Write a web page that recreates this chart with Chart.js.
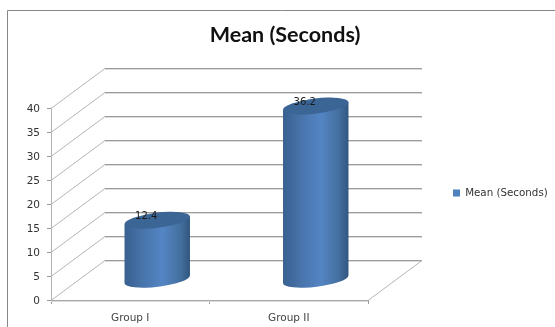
<!DOCTYPE html>
<html>
<head>
<meta charset="utf-8">
<title>Mean (Seconds)</title>
<script src="https://cdn.jsdelivr.net/npm/chart.js"></script>
<style>
    html, body { margin: 0; background: #ffffff; }
    canvas { display: block; }
</style>
</head>
<body>
<canvas id="meanChart" width="555" height="327"></canvas>
<script>
// Chart values
const categories = ['Group I', 'Group II'];
const meanSeconds = [12.4, 36.2];
const seriesName = 'Mean (Seconds)';

// Depth of the fake 3D box, in pixels
const depthX = 54;
const depthY = -40.5;

// Outer frame, only the left and top edges are visible
const framePlugin = {
    id: 'frame',
    beforeDraw(chart) {
        const ctx = chart.ctx;
        ctx.save();
        ctx.strokeStyle = '#888888';
        ctx.lineWidth = 1;
        ctx.beginPath();
        ctx.moveTo(7.5, chart.height);
        ctx.lineTo(7.5, 10.5);
        ctx.lineTo(chart.width, 10.5);
        ctx.stroke();
        ctx.restore();
    }
};

// Back wall and floor, built from the y scale ticks
const wallPlugin = {
    id: 'walls',
    beforeDatasetsDraw(chart) {
        const ctx = chart.ctx;
        const area = chart.chartArea;
        const yScale = chart.scales.y;
        ctx.save();
        ctx.lineWidth = 1;
        yScale.ticks.forEach(tick => {
            const y = Math.round(yScale.getPixelForValue(tick.value));
            const backY = Math.round(y + depthY) + 0.5;
            // diagonal on the left side wall
            ctx.strokeStyle = '#b4b4b4';
            ctx.beginPath();
            ctx.moveTo(area.left, y + 0.5);
            ctx.lineTo(area.left + depthX, backY);
            ctx.stroke();
            // horizontal line on the back wall, with a soft shadow under it
            ctx.strokeStyle = '#dcdcdc';
            ctx.beginPath();
            ctx.moveTo(area.left + depthX, backY + 1);
            ctx.lineTo(area.right + depthX, backY + 1);
            ctx.stroke();
            ctx.strokeStyle = '#9c9c9c';
            ctx.beginPath();
            ctx.moveTo(area.left + depthX, backY);
            ctx.lineTo(area.right + depthX, backY);
            ctx.stroke();
        });
        // floor edge on the right
        const zeroY = Math.round(yScale.getPixelForValue(0));
        ctx.strokeStyle = '#b4b4b4';
        ctx.beginPath();
        ctx.moveTo(area.right, zeroY + 0.5);
        ctx.lineTo(area.right + depthX, Math.round(zeroY + depthY) + 0.5);
        ctx.stroke();
        // soft shadow under the front floor edge
        ctx.strokeStyle = '#dcdcdc';
        ctx.beginPath();
        ctx.moveTo(area.left, zeroY + 1.5);
        ctx.lineTo(area.right, zeroY + 1.5);
        ctx.stroke();
        ctx.restore();
    }
};

// Replaces the flat bars with tilted cylinders standing halfway into the box
const cylinderPlugin = {
    id: 'cylinders',
    beforeDatasetDraw(chart, args) {
        const ctx = chart.ctx;
        const tilt = -7 * Math.PI / 180;
        const values = chart.data.datasets[args.index].data;
        args.meta.data.forEach((bar, i) => {
            const cx = bar.x + depthX / 2;
            const topY = bar.y + depthY / 2;
            const baseY = bar.base + depthY / 2;
            const rx = bar.width / 2;
            const ry = 7.5;
            const edgeX = rx * Math.cos(tilt);
            const edgeY = rx * Math.sin(tilt);

            const side = ctx.createLinearGradient(cx - rx, 0, cx + rx, 0);
            side.addColorStop(0, '#38608f');
            side.addColorStop(0.25, '#4672a8');
            side.addColorStop(0.58, '#5485c4');
            side.addColorStop(0.85, '#44709f');
            side.addColorStop(1, '#30557f');

            ctx.save();
            ctx.fillStyle = side;
            ctx.beginPath();
            ctx.ellipse(cx, baseY, rx, ry, tilt, 0, Math.PI);
            ctx.lineTo(cx - edgeX, topY - edgeY);
            ctx.lineTo(cx + edgeX, topY + edgeY);
            ctx.closePath();
            ctx.fill();

            ctx.fillStyle = '#3b6594';
            ctx.beginPath();
            ctx.ellipse(cx, topY, rx, ry, tilt, 0, Math.PI * 2);
            ctx.fill();

            // value label sits on the top cap
            ctx.fillStyle = '#1a1a1a';
            ctx.font = '10px "DejaVu Sans"';
            ctx.textAlign = 'center';
            ctx.textBaseline = 'middle';
            ctx.fillText(String(values[i]), cx - 11, topY - 4);
            ctx.restore();
        });
        return false;
    }
};

// Title and legend live outside the plot box, so put them in place after layout
const placementPlugin = {
    id: 'placement',
    afterLayout(chart) {
        chart.titleBlock.left = 15;
        chart.titleBlock.right = 555;
        const legend = chart.legend;
        const h = legend.height;
        const w = legend.width;
        legend.left = 443;
        legend.right = 443 + w;
        legend.top = 193 - h / 2;
        legend.bottom = 193 + h / 2;
    }
};

const ctx = document.getElementById('meanChart').getContext('2d');

const chart = new Chart(ctx, {
    type: 'bar',
    data: {
        labels: categories,
        datasets: [
            {
                label: seriesName,
                data: meanSeconds,
                backgroundColor: '#4f81bd',
                borderWidth: 0,
                categoryPercentage: 1,
                barPercentage: 0.416
            }
        ]
    },
    plugins: [framePlugin, wallPlugin, cylinderPlugin, placementPlugin],
    options: {
        responsive: false,
        animation: false,
        layout: {
            padding: { left: 15, right: 187, top: 0, bottom: 0 }
        },
        plugins: {
            title: {
                display: true,
                text: seriesName,
                color: '#111111',
                font: { family: 'Lato', size: 21.5, weight: 'bold' },
                padding: { top: 22, bottom: 60.2 }
            },
            legend: {
                position: 'chartArea',
                labels: {
                    boxWidth: 7,
                    boxHeight: 7,
                    color: '#333333',
                    font: { family: '"DejaVu Sans"', size: 10.3 },
                    padding: 10
                }
            },
            tooltip: { enabled: false }
        },
        scales: {
            x: {
                afterFit(scale) { scale.height = 27; },
                grid: {
                    drawOnChartArea: false,
                    color: '#9c9c9c',
                    tickLength: 4
                },
                border: { color: '#a8a8a8' },
                ticks: {
                    color: '#444444',
                    font: { family: '"DejaVu Sans"', size: 10.5 },
                    padding: 8,
                    maxRotation: 0
                }
            },
            y: {
                min: 0,
                max: 40,
                afterFit(scale) { scale.width = 36; },
                grid: {
                    drawOnChartArea: false,
                    color: '#9c9c9c',
                    tickLength: 4
                },
                border: { color: '#b4b4b4' },
                ticks: {
                    stepSize: 5,
                    color: '#333333',
                    font: { family: '"DejaVu Sans"', size: 10.5 },
                    padding: 7,
                    labelOffset: 1.5
                }
            }
        }
    }
});
</script>
</body>
</html>
